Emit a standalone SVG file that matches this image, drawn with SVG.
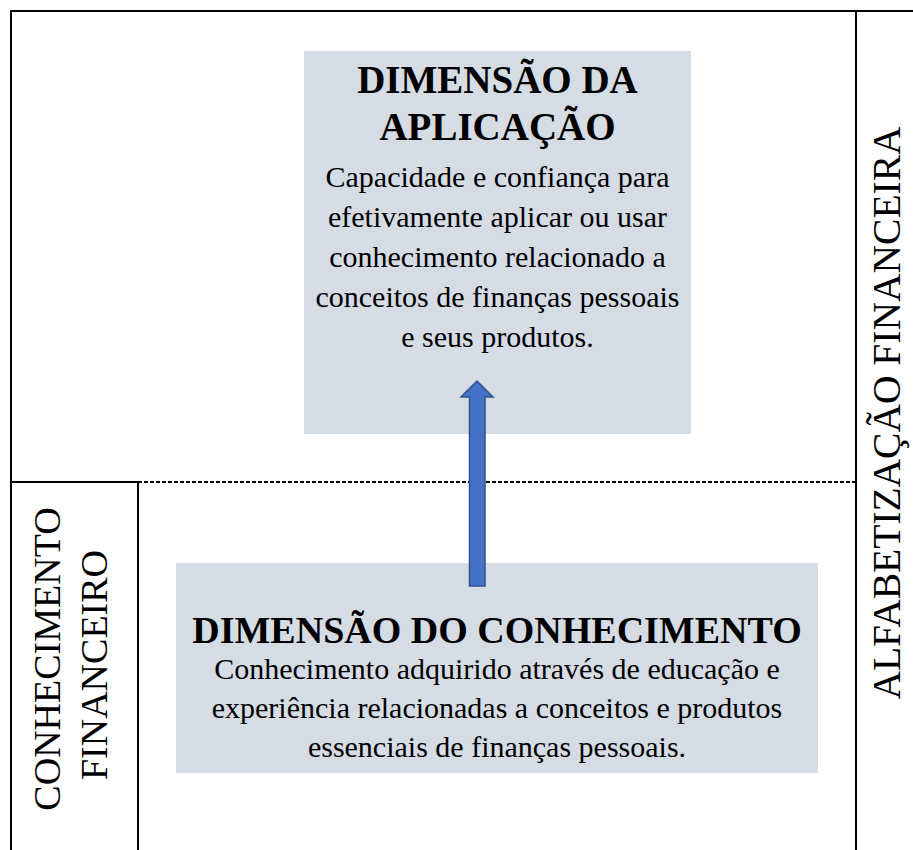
<svg xmlns="http://www.w3.org/2000/svg" width="913" height="850" viewBox="0 0 913 850">
<style>
.frame{stroke:#000;stroke-width:2;fill:none}
.dash{stroke:#000;stroke-width:2;stroke-dasharray:4 2;fill:none}
.box{fill:#D6DCE4}
.title{font-family:"Liberation Serif","Times New Roman",serif;font-weight:bold;font-size:38px;fill:#000;text-anchor:middle}
.body{font-family:"Liberation Serif","Times New Roman",serif;font-size:30px;fill:#000;text-anchor:middle}
.side{font-family:"Liberation Serif","Times New Roman",serif;font-size:38px;fill:#000;text-anchor:middle}
.arrow{fill:#4472C4;stroke:#2F528F;stroke-width:1.5}
</style>
<rect width="913" height="850" fill="#fff"/>
<g id="frame">
<line class="frame" x1="10" y1="11" x2="913" y2="11"/>
<line class="frame" x1="11" y1="10" x2="11" y2="850"/>
<line class="frame" x1="856" y1="10" x2="856" y2="850"/>
<line class="frame" x1="11" y1="482" x2="138" y2="482"/>
<line class="dash" x1="138" y1="482" x2="856" y2="482"/>
<line class="frame" x1="138" y1="481" x2="138" y2="850"/>
</g>
<g id="alfabetizacao">
<text class="side" style="font-size:39.5px" transform="translate(900,413) rotate(-90)">ALFABETIZAÇÃO FINANCEIRA</text>
</g>
<g id="conhecimento-financeiro">
<text class="side" transform="translate(60,659) rotate(-90)">CONHECIMENTO</text>
<text class="side" transform="translate(107,665) rotate(-90)">FINANCEIRO</text>
</g>
<g id="dimensao-aplicacao">
<rect class="box" x="304" y="51" width="387" height="383"/>
<text class="title" style="font-size:39px" x="497.5" y="93">DIMENSÃO DA</text>
<text class="title" style="font-size:39px" x="497.5" y="140">APLICAÇÃO</text>
<text class="body" x="497.5" y="187">Capacidade e confiança para</text>
<text class="body" x="497.5" y="227">efetivamente aplicar ou usar</text>
<text class="body" x="497.5" y="267">conhecimento relacionado a</text>
<text class="body" x="497.5" y="307">conceitos de finanças pessoais</text>
<text class="body" x="497.5" y="347">e seus produtos.</text>
</g>
<g id="dimensao-conhecimento">
<rect class="box" x="176" y="563" width="642" height="210"/>
<text class="title" x="497" y="643">DIMENSÃO DO CONHECIMENTO</text>
<text class="body" x="497" y="679">Conhecimento adquirido através de educação e</text>
<text class="body" x="497" y="718">experiência relacionadas a conceitos e produtos</text>
<text class="body" x="497" y="757">essenciais de finanças pessoais.</text>
</g>
<g id="connectors">
<polygon class="arrow" points="477,381 493,397 485,397 485,586 469.5,586 469.5,397 461,397"/>
</g>
</svg>
